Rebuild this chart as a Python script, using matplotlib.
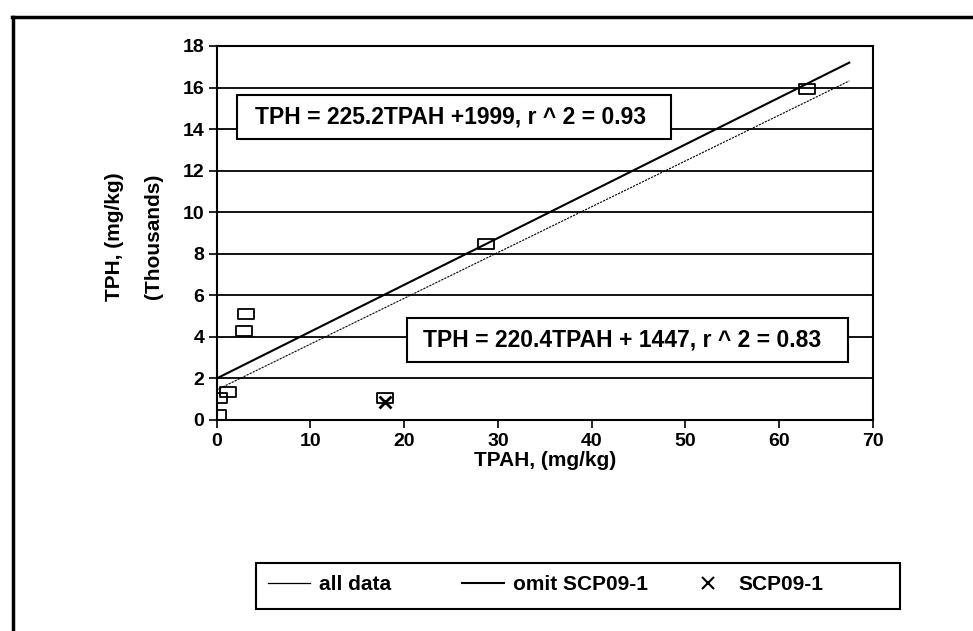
import numpy as np
import matplotlib
matplotlib.use("Agg")
import matplotlib.pyplot as plt
from matplotlib.lines import Line2D
from matplotlib.patches import Rectangle
from matplotlib.path import Path

# TPH vs TPAH data
tpah = [0.1, 0.2, 1.2, 2.9, 3.1, 18.0, 28.7, 63.0]
tph = [0.22, 1.08, 1.35, 4.3, 5.08, 1.04, 8.45, 15.95]

# the outlier (SCP09-1)
scp_x = [18.0]
scp_y = [0.88]

# trend line end points
trend_x = [0, 67.5]
all_data_y = [1.45, 16.32]
omit_y = [2.0, 17.2]

eq_omit = "TPH = 225.2TPAH +1999, r ^ 2 = 0.93"
eq_all = "TPH = 220.4TPAH + 1447, r ^ 2 = 0.83"
legend_labels = ["all data", "omit SCP09-1", "SCP09-1"]

plt.rcParams['font.family'] = ['Liberation Sans', 'DejaVu Sans']
plt.rcParams['font.weight'] = 'bold'

fig = plt.figure(figsize=(9.73, 6.31), dpi=100)
W, H = 973, 631
ax = fig.add_axes([216.7 / W, 1 - 420 / H, (872.7 - 216.7) / W, (420 - 46) / H])

# horizontal gridlines
ax.set_axisbelow(True)
ax.yaxis.grid(True, color='black', linewidth=1.3)

# data
rect = Path([(-1, -0.6), (1, -0.6), (1, 0.6), (-1, 0.6), (-1, -0.6)],
            [Path.MOVETO, Path.LINETO, Path.LINETO, Path.LINETO, Path.CLOSEPOLY])
ax.plot(trend_x, all_data_y, color='black', linewidth=0.8, linestyle=(0, (2, 1)), zorder=3)
ax.plot(trend_x, omit_y, color='black', linewidth=1.5, zorder=3)
ax.plot(tpah, tph, linestyle='none', marker=rect, markersize=11,
        markerfacecolor='none', markeredgecolor='black', markeredgewidth=1.3, zorder=4)
ax.plot(scp_x, scp_y, linestyle='none', marker='x', markersize=8,
        color='black', markeredgewidth=2, zorder=5)

ax.set_xlim(0, 70)
ax.set_ylim(0, 18)
ax.set_xticks(np.arange(0, 71, 10))
ax.set_yticks(np.arange(0, 19, 2))
ax.tick_params(direction='out', length=6, width=1.2, labelsize=14, pad=3)
for s in ax.spines.values():
    s.set_linewidth(1.5)

ax.set_xlabel("TPAH, (mg/kg)", fontsize=15, fontweight='bold', labelpad=1)
ax.text(-0.126, 0.49, "TPH, (mg/kg)\n(Thousands)", transform=ax.transAxes,
        rotation=90, ha='center', va='center', multialignment='center',
        fontsize=15, fontweight='bold', linespacing=2.3)

# equation boxes
ax.add_patch(Rectangle((2.17, 13.52), 48.5 - 2.17, 15.64 - 13.52, facecolor='white',
                       edgecolor='black', linewidth=1.5, zorder=6))
ax.add_patch(Rectangle((20.3, 2.79), 67.4 - 20.3, 4.91 - 2.79, facecolor='white',
                       edgecolor='black', linewidth=1.5, zorder=6))
ax.text(25.0, 14.58, eq_omit, ha='center', va='center', fontsize=16.5,
        fontweight='bold', zorder=7)
ax.text(43.25, 3.85, eq_all, ha='center', va='center', fontsize=16.5,
        fontweight='bold', zorder=7)

# legend, one entry at a time so the gaps match the original
handles = [Line2D([], [], color='black', linewidth=0.9),
           Line2D([], [], color='black', linewidth=1.5),
           Line2D([], [], color='black', linestyle='none', marker='x', markersize=8,
                  markeredgewidth=1.5)]
starts = [268, 462, 687]
for h, lab, x0 in zip(handles, legend_labels, starts):
    fig.legend([h], [lab], loc='center left', bbox_to_anchor=(x0 / W, 1 - 585 / H),
               frameon=False, prop={'size': 15, 'weight': 'bold'},
               handlelength=2.0, handletextpad=0.45, borderpad=0, borderaxespad=0)
fig.add_artist(Rectangle((256 / W, 1 - 609 / H), (900 - 256) / W, (609 - 563) / H,
                         transform=fig.transFigure, fill=False,
                         edgecolor='black', linewidth=1.5))

# outer page border (top and left)
fig.add_artist(Line2D([12 / W, 1], [1 - 17 / H, 1 - 17 / H],
                      transform=fig.transFigure, color='black', linewidth=2.5))
fig.add_artist(Line2D([13 / W, 13 / W], [0, 1 - 17 / H],
                      transform=fig.transFigure, color='black', linewidth=2.5))

fig.savefig("out.png", dpi=100)
